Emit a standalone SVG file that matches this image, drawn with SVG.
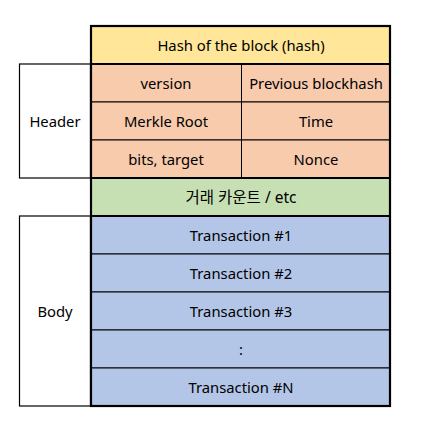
<svg xmlns="http://www.w3.org/2000/svg" width="428" height="425" viewBox="0 0 428 425">
<style>
text{font-family:"Noto Sans","Noto Sans CJK KR",sans-serif;font-size:14.8px;fill:#000;text-anchor:middle;dominant-baseline:central}
.ko{font-size:15.5px}
.thin{stroke:#000;stroke-width:1;fill:none}
.thick{stroke:#000;stroke-width:2.2;fill:none}
.hash{fill:#FFE699}
.hdr{fill:#F8CBAD}
.cnt{fill:#C6E0B4}
.tx{fill:#B4C6E7}
.side{fill:#fff;stroke:#000;stroke-width:1.2}
</style>
<rect width="428" height="425" fill="#fff"/>
<g id="header-label"><rect class="side" x="19.5" y="64" width="71" height="114"/><text x="55" y="121">Header</text></g>
<g id="body-label"><rect class="side" x="19.5" y="216" width="71" height="190"/><text x="55" y="311">Body</text></g>
<g id="hash"><rect class="hash" x="91" y="26" width="299" height="38"/><text x="241" y="45">Hash of the block (hash)</text></g>
<g id="version"><rect class="hdr thin" x="91" y="64" width="150.5" height="38"/><text x="166" y="83">version</text></g>
<g id="prevhash"><rect class="hdr thin" x="241.5" y="64" width="148.5" height="38"/><text x="316" y="83">Previous blockhash</text></g>
<g id="merkle"><rect class="hdr thin" x="91" y="102" width="150.5" height="38"/><text x="166" y="121">Merkle Root</text></g>
<g id="time"><rect class="hdr thin" x="241.5" y="102" width="148.5" height="38"/><text x="316" y="121">Time</text></g>
<g id="bits"><rect class="hdr thin" x="91" y="140" width="150.5" height="38"/><text x="166" y="159">bits, target</text></g>
<g id="nonce"><rect class="hdr thin" x="241.5" y="140" width="148.5" height="38"/><text x="316" y="159">Nonce</text></g>
<g id="count"><rect class="cnt" x="91" y="178" width="299" height="38"/><text class="ko" x="241" y="197">거래 카운트 / etc</text></g>
<g id="tx1"><rect class="tx thin" x="91" y="216" width="299" height="38"/><text x="241" y="235">Transaction #1</text></g>
<g id="tx2"><rect class="tx thin" x="91" y="254" width="299" height="38"/><text x="241" y="273">Transaction #2</text></g>
<g id="tx3"><rect class="tx thin" x="91" y="292" width="299" height="38"/><text x="241" y="311">Transaction #3</text></g>
<g id="txdots"><rect class="tx thin" x="91" y="330" width="299" height="38"/><text x="241" y="349">:</text></g>
<g id="txN"><rect class="tx thin" x="91" y="368" width="299" height="38"/><text x="241" y="387">Transaction #N</text></g>
<g id="borders">
<rect class="thick" x="91" y="26" width="299" height="380"/>
<line class="thick" x1="91" y1="64" x2="390" y2="64"/>
<line class="thick" x1="91" y1="178" x2="390" y2="178"/>
<line class="thick" x1="91" y1="216" x2="390" y2="216"/>
</g>
</svg>
